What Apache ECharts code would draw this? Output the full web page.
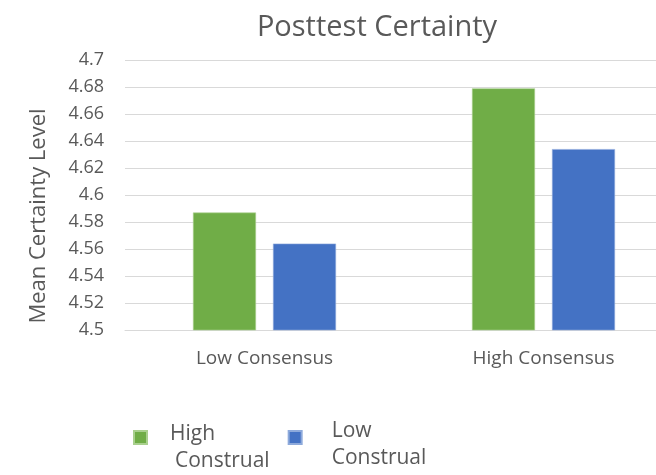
<!DOCTYPE html>
<html>
<head>
<meta charset="utf-8">
<script src="https://cdn.jsdelivr.net/npm/echarts@6/dist/echarts.min.js"></script>
<style>
  html, body { margin: 0; padding: 0; background: #ffffff; overflow: hidden; }
  #chart { width: 683px; height: 475px; }
</style>
</head>
<body>
<div id="chart"></div>
<script>
// Consensus conditions on the x axis
const categories = ['Low Consensus', 'High Consensus'];
// Mean posttest certainty per construal condition
const highConstrual = [4.587, 4.679];
const lowConstrual = [4.564, 4.634];
// Value axis range and step
const yMin = 4.5;
const yMax = 4.7;
const yStep = 0.02;

const textGrey = '#595959';
const gridGrey = '#d9d9d9';
const fontFamily = '"Open Sans", "Noto Sans", sans-serif';

const chart = echarts.init(document.getElementById('chart'));

const legendText = {
  color: textGrey,
  fontSize: 21,
  lineHeight: 27,
  fontFamily: fontFamily
};

chart.setOption({
  backgroundColor: '#ffffff',
  animation: false,
  title: {
    text: 'Posttest Certainty',
    left: 372,
    top: 8,
    textAlign: 'center',
    textStyle: {
      color: textGrey,
      fontSize: 29,
      fontWeight: 'normal',
      fontFamily: fontFamily
    }
  },
  legend: {
    left: 128,
    top: 395,
    orient: 'horizontal',
    itemWidth: 13,
    itemHeight: 13,
    itemGap: 18,
    icon: 'rect',
    // Wrap each entry onto two lines; the green entry's second line is indented a little
    formatter: function (name) {
      const parts = name.split(' ');
      if (name === 'High Construal') {
        return '{a|' + parts[0] + '}\n{b|' + parts[1] + '}';
      }
      return '{a|' + parts[0] + '}\n{a|' + parts[1] + '}';
    },
    textStyle: Object.assign({}, legendText, {
      rich: {
        a: Object.assign({}, legendText),
        b: Object.assign({}, legendText, { padding: [0, 0, 0, 5] })
      }
    }),
    // Top padding drops the text so the swatch sits beside the first line
    data: [
      { name: 'High Construal', textStyle: { padding: [21, 0, 0, 18] } },
      { name: 'Low Construal', textStyle: { padding: [15, 0, 0, 25] } }
    ]
  },
  grid: {
    left: 125,
    top: 60,
    width: 558,
    height: 270,
    containLabel: false
  },
  xAxis: {
    type: 'category',
    data: categories,
    axisLine: { show: true, lineStyle: { color: gridGrey, width: 1 } },
    axisTick: { show: false },
    axisLabel: {
      color: textGrey,
      fontSize: 19,
      margin: 19,
      fontFamily: fontFamily
    }
  },
  yAxis: {
    type: 'value',
    min: yMin,
    max: yMax,
    interval: yStep,
    name: 'Mean Certainty Level',
    nameLocation: 'middle',
    nameGap: 75,
    nameTextStyle: {
      color: textGrey,
      fontSize: 22,
      fontFamily: fontFamily,
      padding: [0, 42, 0, 0]
    },
    axisLine: { show: false },
    axisTick: { show: false },
    splitLine: { lineStyle: { color: gridGrey, width: 1 } },
    axisLabel: {
      color: textGrey,
      fontSize: 18,
      margin: 21,
      fontFamily: fontFamily,
      formatter: function (v) {
        return String(Number(v.toFixed(2)));
      }
    }
  },
  series: [
    {
      name: 'High Construal',
      type: 'bar',
      data: highConstrual,
      barWidth: 63,
      barGap: '27%',
      itemStyle: { color: '#70ad47', borderColor: '#a9d08e', borderWidth: 0.6 }
    },
    {
      name: 'Low Construal',
      type: 'bar',
      data: lowConstrual,
      barWidth: 63,
      barGap: '27%',
      itemStyle: { color: '#4472c4', borderColor: '#8eaadb', borderWidth: 0.6 }
    }
  ]
});
</script>
</body>
</html>
